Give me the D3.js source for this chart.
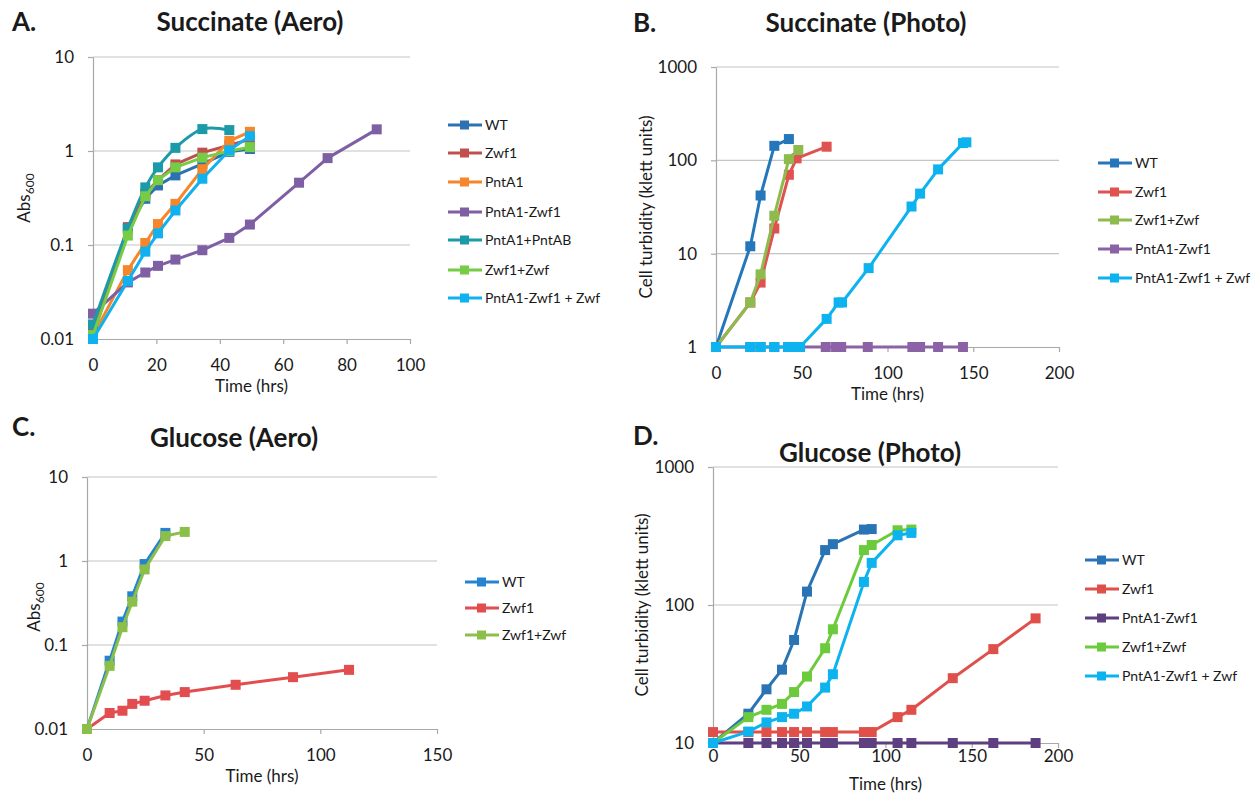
<!DOCTYPE html>
<html>
<head>
<meta charset="utf-8">
<script src="https://cdn.jsdelivr.net/npm/d3@7"></script>
<style>
  body { margin: 0; background: #fff; }
  text { font-family: Lato, "Open Sans", sans-serif; fill: #1a1a1a; }
</style>
</head>
<body>
<svg width="1253" height="797"></svg>
<script>
// ---- A. Succinate (Aero) ----
var timeA = [0, 11, 16.5, 20.5, 26, 34.5, 43, 49.5];
var timeA_pntab = [0, 11, 16.5, 20.5, 26, 34.5, 43];
var timeA_pz = [0, 11, 16.5, 20.5, 26, 34.5, 43, 49.5, 65, 74, 89.5];
var wtA = [0.011, 0.15, 0.31, 0.43, 0.55, 0.73, 0.98, 1.05];
var zwf1A = [0.0115, 0.155, 0.35, 0.49, 0.72, 0.96, 1.15, 1.33];
var pntA1A = [0.0108, 0.054, 0.105, 0.167, 0.274, 0.64, 1.28, 1.6];
var pntZwfA = [0.0186, 0.04, 0.051, 0.06, 0.07, 0.088, 0.119, 0.165, 0.46, 0.84, 1.7];
var pntABA = [0.0143, 0.15, 0.41, 0.67, 1.08, 1.71, 1.67];
var zwfZwfA = [0.011, 0.126, 0.33, 0.49, 0.67, 0.85, 1.0, 1.1];
var pzZwfA = [0.01, 0.0415, 0.085, 0.133, 0.233, 0.507, 1.02, 1.44];

// ---- B. Succinate (Photo) ----
var wtB_t = [0, 20, 26, 34, 42.5];
var wtB = [1, 12, 42, 143, 169];
var zwf1B_t = [0, 20, 26, 34, 42.5, 47, 64.5];
var zwf1B = [1, 3, 4.9, 18.6, 70, 105, 140];
var zwfZwfB_t = [0, 20, 26, 34, 42.5, 48];
var zwfZwfB = [1, 3, 6, 25.5, 103, 129];
var pntZwfB_t = [0, 20, 26, 34, 42, 46, 49, 64, 70, 73, 88.5, 114.5, 119, 129.5, 144];
var pntZwfB = [1, 1, 1, 1, 1, 1, 1, 1, 1, 1, 1, 1, 1, 1, 1];
var pzZwfB_t = [0, 20, 26, 34, 42, 46, 49, 64.5, 71.5, 73.5, 89, 114, 119, 129.5, 144, 146];
var pzZwfB = [1, 1, 1, 1, 1, 1, 1, 2, 3, 3, 7, 32, 44, 80, 153, 156];

// ---- C. Glucose (Aero) ----
var wtC_t = [0, 9.7, 15.2, 19.4, 24.7, 33.6];
var wtC = [0.01, 0.065, 0.19, 0.38, 0.92, 2.16];
var zwf1C_t = [0, 9.7, 15.2, 19.4, 24.7, 33.6, 41.9, 63.7, 88.3, 112.3];
var zwf1C = [0.01, 0.0155, 0.0165, 0.0199, 0.0217, 0.0251, 0.0275, 0.0336, 0.0414, 0.0506];
var zwfZwfC_t = [0, 9.7, 15.2, 19.4, 24.7, 33.6, 41.9];
var zwfZwfC = [0.01, 0.0565, 0.163, 0.328, 0.794, 1.98, 2.22];

// ---- D. Glucose (Photo) ----
var timeD = [0, 20.5, 31, 40, 47, 54.5, 65, 69.5, 87.5, 92, 107, 115, 139, 162.5, 187];
var wtD = [10, 16.3, 24.5, 34, 55.8, 125, 250, 276, 352, 355];
var zwf1D = [12, 12, 12, 12, 12, 12, 12, 12, 12, 12, 15.4, 17.4, 29.5, 47.9, 80];
var pntZwfD = [10, 10, 10, 10, 10, 10, 10, 10, 10, 10, 10, 10, 10, 10, 10];
var zwfZwfD = [10, 15.4, 17.4, 19.2, 23.4, 30.3, 48.6, 66.7, 250, 272, 348, 352];
var pzZwfD = [10, 12.1, 14.1, 15.4, 16.3, 18.4, 25.2, 31.5, 147, 202, 320, 333];

// axis ticks
var absTicks = [0.01, 0.1, 1, 10];
var absLabels = ["0.01", "0.1", "1", "10"];
var klettTicksB = [1, 10, 100, 1000];
var klettLabelsB = ["1", "10", "100", "1000"];
var klettTicksD = [10, 100, 1000];
var klettLabelsD = ["10", "100", "1000"];

function pairs(t, v) {
  return v.map(function(d, i) { return [t[i], d]; });
}

var svg = d3.select("svg");

function drawPanel(p) {
  var g = svg.append("g");
  var x = d3.scaleLinear().domain(p.xDomain).range([p.left, p.right]);
  var y = d3.scaleLog().domain(p.yDomain).range([p.bottom, p.top]);

  // gridlines
  g.selectAll("line.grid")
    .data(p.yTicks.slice(1))
    .enter().append("line")
      .attr("x1", p.left).attr("x2", p.right)
      .attr("y1", function(d) { return y(d); })
      .attr("y2", function(d) { return y(d); })
      .attr("stroke", "#c4c4c4")
      .attr("stroke-width", 1.2);

  var ax = g.append("g")
    .attr("transform", "translate(0," + p.bottom + ")")
    .call(d3.axisBottom(x).tickValues(p.xTicks).tickFormat(d3.format("d"))
      .tickSize(5).tickSizeOuter(0).tickPadding(p.xPad));
  var ay = g.append("g")
    .attr("transform", "translate(" + p.left + ",0)")
    .call(d3.axisLeft(y).tickValues(p.yTicks)
      .tickFormat(function(d, i) { return p.yLabels[i]; })
      .tickSize(5).tickSizeOuter(0).tickPadding(14));
  [ax, ay].forEach(function(a) {
    a.selectAll("path, line").attr("stroke", "#a8a8a8").attr("stroke-width", 1.2);
    a.selectAll("text").style("font-size", "17px").attr("fill", "#1a1a1a");
  });

  // titles
  g.append("text").attr("x", p.letterX).attr("y", p.letterY)
    .style("font-size", "26px").style("font-weight", "bold").text(p.letter);
  g.append("text").attr("x", p.titleX).attr("y", p.titleY)
    .attr("text-anchor", "middle")
    .style("font-size", "26px").style("font-weight", "bold").text(p.title);
  g.append("text").attr("x", (p.left + p.right) / 2).attr("y", p.bottom + p.xLabelOff)
    .attr("text-anchor", "middle").style("font-size", "17px").text("Time (hrs)");

  var yl = g.append("text")
    .attr("transform", "translate(" + p.yLabelX + "," + p.yLabelY + ") rotate(-90)")
    .attr("text-anchor", "middle").style("font-size", "17px");
  if (p.abs) {
    yl.append("tspan").text("Abs");
    yl.append("tspan").attr("dy", "0.3em").style("font-size", "12px").text("600");
  } else {
    yl.text("Cell turbidity (klett units)");
  }

  var line = d3.line()
    .x(function(d) { return x(d[0]); })
    .y(function(d) { return y(d[1]); });

  p.series.forEach(function(s) {
    var sg = g.append("g");
    sg.append("path")
      .datum(s.data)
      .attr("fill", "none")
      .attr("stroke", s.color)
      .attr("stroke-width", 3)
      .attr("stroke-linejoin", "round")
      .attr("d", line.curve(s.smooth ? d3.curveCatmullRom.alpha(0.5) : d3.curveLinear));
    sg.selectAll("rect")
      .data(s.data)
      .enter().append("rect")
        .attr("x", function(d) { return x(d[0]) - 5; })
        .attr("y", function(d) { return y(d[1]) - 5; })
        .attr("width", 10).attr("height", 10)
        .attr("fill", s.color);
  });

  // legend
  var lg = g.append("g");
  p.series.forEach(function(s, i) {
    var ly = p.legY[i];
    lg.append("line")
      .attr("x1", p.legX).attr("x2", p.legX + 34)
      .attr("y1", ly).attr("y2", ly)
      .attr("stroke", s.color).attr("stroke-width", 3);
    lg.append("rect")
      .attr("x", p.legX + 12).attr("y", ly - 4.5)
      .attr("width", 9).attr("height", 9)
      .attr("fill", s.color);
    lg.append("text")
      .attr("x", p.legX + 37).attr("y", ly)
      .attr("dy", "0.35em")
      .style("font-size", "14px")
      .text(s.name);
  });
}

drawPanel({
  letter: "A.", letterX: 12, letterY: 31,
  title: "Succinate (Aero)", titleX: 250, titleY: 31,
  left: 93, right: 410, top: 57, bottom: 339,
  xDomain: [0, 100], yDomain: [0.01, 10],
  xTicks: [0, 20, 40, 60, 80, 100], xPad: 15, xLabelOff: 53,
  yTicks: absTicks, yLabels: absLabels, abs: true,
  yLabelX: 30, yLabelY: 198,
  legX: 448, legY: [125, 153, 182, 212, 240, 270, 298],
  series: [
    { name: "WT", color: "#2c72b3", data: pairs(timeA, wtA) },
    { name: "Zwf1", color: "#c0504d", data: pairs(timeA, zwf1A) },
    { name: "PntA1", color: "#f7862a", data: pairs(timeA, pntA1A) },
    { name: "PntA1-Zwf1", color: "#7f5fa4", data: pairs(timeA_pz, pntZwfA) },
    { name: "PntA1+PntAB", color: "#1b9aa8", data: pairs(timeA_pntab, pntABA), smooth: true },
    { name: "Zwf1+Zwf", color: "#76cc45", data: pairs(timeA, zwfZwfA) },
    { name: "PntA1-Zwf1 + Zwf", color: "#0fb2ef", data: pairs(timeA, pzZwfA) }
  ]
});

drawPanel({
  letter: "B.", letterX: 633, letterY: 32,
  title: "Succinate (Photo)", titleX: 866, titleY: 32,
  left: 716, right: 1059, top: 67, bottom: 347,
  xDomain: [0, 200], yDomain: [1, 1000],
  xTicks: [0, 50, 100, 150, 200], xPad: 15, xLabelOff: 53,
  yTicks: klettTicksB, yLabels: klettLabelsB, abs: false,
  yLabelX: 652, yLabelY: 207,
  legX: 1098, legY: [163, 192, 220, 249, 278],
  series: [
    { name: "WT", color: "#2577bb", data: pairs(wtB_t, wtB) },
    { name: "Zwf1", color: "#e05250", data: pairs(zwf1B_t, zwf1B) },
    { name: "Zwf1+Zwf", color: "#8dbb4e", data: pairs(zwfZwfB_t, zwfZwfB) },
    { name: "PntA1-Zwf1", color: "#8c62a6", data: pairs(pntZwfB_t, pntZwfB) },
    { name: "PntA1-Zwf1 + Zwf", color: "#0db3ef", data: pairs(pzZwfB_t, pzZwfB) }
  ]
});

drawPanel({
  letter: "C.", letterX: 12, letterY: 436,
  title: "Glucose (Aero)", titleX: 234, titleY: 447,
  left: 87, right: 437, top: 477, bottom: 729,
  xDomain: [0, 150], yDomain: [0.01, 10],
  xTicks: [0, 50, 100, 150], xPad: 15, xLabelOff: 53,
  yTicks: absTicks, yLabels: absLabels, abs: true,
  yLabelX: 40, yLabelY: 607,
  legX: 465, legY: [582, 608, 635],
  series: [
    { name: "WT", color: "#2583cf", data: pairs(wtC_t, wtC) },
    { name: "Zwf1", color: "#e24d4f", data: pairs(zwf1C_t, zwf1C) },
    { name: "Zwf1+Zwf", color: "#8cbf4a", data: pairs(zwfZwfC_t, zwfZwfC) }
  ]
});

drawPanel({
  letter: "D.", letterX: 633, letterY: 445,
  title: "Glucose (Photo)", titleX: 870, titleY: 462,
  left: 713, right: 1058, top: 467, bottom: 743,
  xDomain: [0, 200], yDomain: [10, 1000],
  xTicks: [0, 50, 100, 150, 200], xPad: 2, xLabelOff: 47,
  yTicks: klettTicksD, yLabels: klettLabelsD, abs: false,
  yLabelX: 648, yLabelY: 605,
  legX: 1085, legY: [560, 589, 618, 647, 676],
  series: [
    { name: "WT", color: "#2a74b5", data: pairs(timeD, wtD) },
    { name: "Zwf1", color: "#e0504b", data: pairs(timeD, zwf1D) },
    { name: "PntA1-Zwf1", color: "#5e3f7f", data: pairs(timeD, pntZwfD) },
    { name: "Zwf1+Zwf", color: "#6bcb3c", data: pairs(timeD, zwfZwfD) },
    { name: "PntA1-Zwf1 + Zwf", color: "#0db3ef", data: pairs(timeD, pzZwfD) }
  ]
});
</script>
</body>
</html>
